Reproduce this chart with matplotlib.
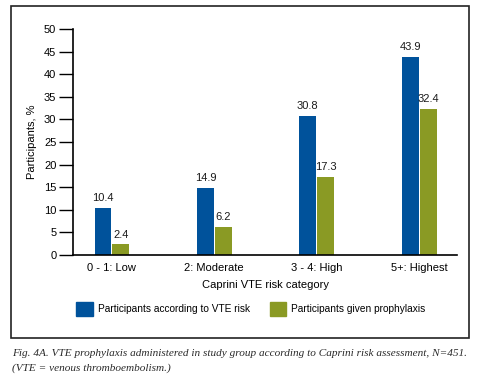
import matplotlib.pyplot as plt
from matplotlib.patches import Rectangle, Patch
import numpy as np

categories = ["0 - 1: Low", "2: Moderate", "3 - 4: High", "5+: Highest"]
vte_risk = [10.4, 14.9, 30.8, 43.9]
prophylaxis = [2.4, 6.2, 17.3, 32.4]
series_names = ["Participants according to VTE risk", "Participants given prophylaxis"]
yticks = list(range(0, 55, 5))

blue = "#00529B"
green = "#8A9A24"

plt.rcParams['font.family'] = ['Liberation Sans', 'DejaVu Sans']

fig = plt.figure(figsize=(4.79, 3.75), dpi=100)

# outer frame
fig.patches.append(Rectangle((11 / 479, 37 / 375), 458 / 479, 332 / 375,
                             transform=fig.transFigure, fill=False,
                             edgecolor="#222222", linewidth=1.2))

ax = fig.add_axes([73 / 479, 120 / 375, 384 / 479, 226 / 375])

x = np.arange(len(categories))
w = 0.165
gap = 0.01
b1 = ax.bar(x - w / 2 - gap / 2, vte_risk, w, color=blue, label=series_names[0])
b2 = ax.bar(x + w / 2 + gap / 2, prophylaxis, w, color=green, label=series_names[1])

for bars, vals in ((b1, vte_risk), (b2, prophylaxis)):
    for r, v in zip(bars, vals):
        ax.text(r.get_x() + r.get_width() / 2, v + 1.0, f"{v:.1f}",
                ha="center", va="bottom", fontsize=8, color="#1a1a1a")

ax.set_xlim(-0.38, 3.37)
ax.set_ylim(0, 50)
ax.set_yticks(yticks)
ax.set_xticks(x)
ax.set_xticklabels(categories, fontsize=8)
ax.tick_params(axis="y", length=10, width=1, labelsize=8, pad=2)
ax.tick_params(axis="x", length=0, pad=6)
for s in ("top", "right"):
    ax.spines[s].set_visible(False)
for s in ("left", "bottom"):
    ax.spines[s].set_linewidth(1.2)

ax.set_ylabel("Participants, %", fontsize=8, labelpad=5)
ax.set_xlabel("Caprini VTE risk category", fontsize=8, labelpad=5)

handles = [Patch(color=blue), Patch(color=green)]
fig.legend(handles, series_names, loc="center", bbox_to_anchor=(251 / 479, 66 / 375),
           ncol=2, frameon=False, fontsize=7.3, handlelength=1.6, handleheight=1.65,
           handletextpad=0.5, columnspacing=2.0)

fig.text(12 / 479, 14 / 375,
         "Fig. 4A. VTE prophylaxis administered in study group according to Caprini risk assessment, N=451.\n"
         "(VTE = venous thromboembolism.)",
         ha="left", va="center", fontsize=8.1, style="italic",
         family=["Liberation Serif", "DejaVu Serif"], color="#2a2a2a", linespacing=1.8)

plt.savefig("out.png", dpi=100)
